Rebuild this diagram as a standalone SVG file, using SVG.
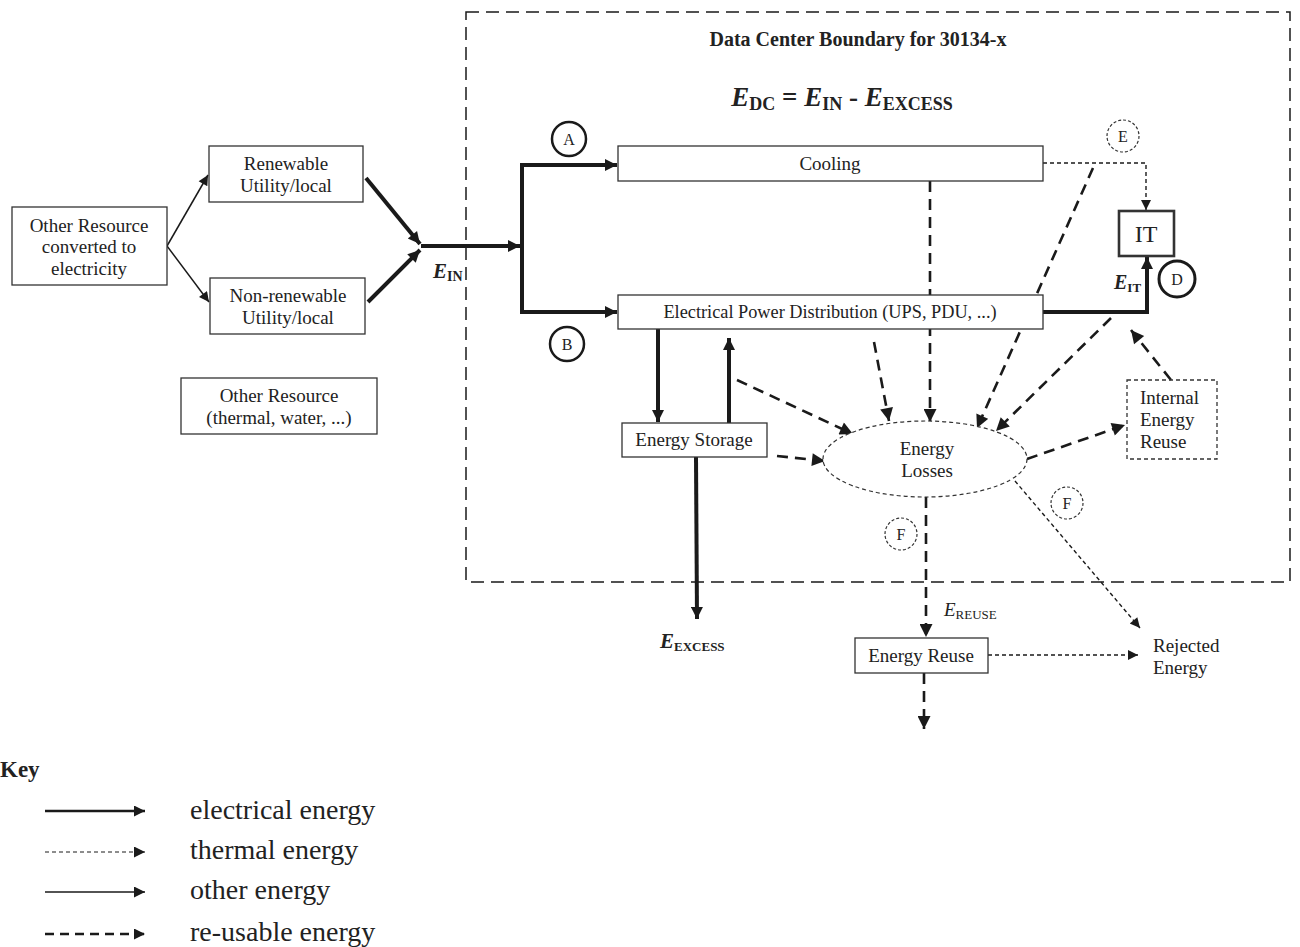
<svg xmlns="http://www.w3.org/2000/svg" width="1300" height="947" viewBox="0 0 1300 947">
<defs>
<style>
text{font-family:"Liberation Serif","DejaVu Serif",serif;fill:#222;}
.lbl{font-size:19px;text-anchor:middle;}
.box{fill:#fff;stroke:#333;stroke-width:1.3;}
.dbox{fill:none;stroke:#333;stroke-width:1.3;stroke-dasharray:4 3;}
.elec{fill:none;stroke:#1a1a1a;stroke-width:4;}
.other{fill:none;stroke:#1a1a1a;stroke-width:1.5;}
.thermal{fill:none;stroke:#1a1a1a;stroke-width:1.4;stroke-dasharray:4 3;}
.reuse{fill:none;stroke:#1a1a1a;stroke-width:2.6;stroke-dasharray:11 7;}
.bound{fill:none;stroke:#1a1a1a;stroke-width:1.5;stroke-dasharray:13 7;}
.circ{fill:#fff;stroke:#1a1a1a;stroke-width:3;}
.dcirc{fill:#fff;stroke:#333;stroke-width:1.2;stroke-dasharray:3 2;}
.key{font-size:28px;}
</style>
<marker id="ah" viewBox="0 0 10 10" refX="10" refY="5" markerWidth="14" markerHeight="12" markerUnits="userSpaceOnUse" orient="auto"><path d="M0,0 L10,5 L0,10 z" fill="#1a1a1a"/></marker>
<marker id="ahs" viewBox="0 0 10 10" refX="10" refY="5" markerWidth="12" markerHeight="10" markerUnits="userSpaceOnUse" orient="auto"><path d="M0,0 L10,5 L0,10 z" fill="#1a1a1a"/></marker>
<marker id="ahr" viewBox="0 0 10 10" refX="10" refY="5" markerWidth="15" markerHeight="13" markerUnits="userSpaceOnUse" orient="auto"><path d="M0,0 L10,5 L0,10 z" fill="#1a1a1a"/></marker>
<marker id="ahk" viewBox="0 0 10 10" refX="10" refY="5" markerWidth="13" markerHeight="11" markerUnits="userSpaceOnUse" orient="auto"><path d="M0,0 L10,5 L0,10 z" fill="#1a1a1a"/></marker>
</defs>
<rect width="1300" height="947" fill="#fff"/>

<g id="boundary">
<rect class="bound" x="466" y="12" width="824" height="570"/>
<text x="858" y="46" style="font-size:20px;font-weight:bold;text-anchor:middle">Data Center Boundary for 30134-x</text>
<text x="842" y="106" style="font-size:27px;font-weight:bold;text-anchor:middle"><tspan font-style="italic">E</tspan><tspan font-size="18" dy="4">DC</tspan><tspan dy="-4"> = </tspan><tspan font-style="italic">E</tspan><tspan font-size="18" dy="4">IN</tspan><tspan dy="-4"> - </tspan><tspan font-style="italic">E</tspan><tspan font-size="18" dy="4">EXCESS</tspan></text>
</g>

<g id="connectors">
<path class="other" d="M167,246 L208,175" marker-end="url(#ahs)"/>
<path class="other" d="M167,246 L209,302" marker-end="url(#ahs)"/>
<path class="elec" d="M366,178 L420,244" marker-end="url(#ah)"/>
<path class="elec" d="M368,302 L420,250" marker-end="url(#ah)"/>
<path class="elec" d="M421,246 L520,246" marker-end="url(#ah)"/>
<path class="elec" d="M522,165 V312"/>
<path class="elec" d="M520,165 H617" marker-end="url(#ah)"/>
<path class="elec" d="M520,312 H617" marker-end="url(#ah)"/>
<path class="elec" d="M1043,312 H1147 V257" marker-end="url(#ah)"/>
<path class="thermal" d="M1043,163 H1146 V210" marker-end="url(#ahs)"/>
<path class="elec" d="M658,329 V422" marker-end="url(#ah)"/>
<path class="elec" d="M729,423 V338" marker-end="url(#ah)"/>
<path class="elec" d="M696,457 L697,619" marker-end="url(#ah)"/>
<path class="reuse" d="M930,181 V422" marker-end="url(#ahr)"/>
<path class="reuse" d="M1093,168 L977,428" marker-end="url(#ahr)"/>
<path class="reuse" d="M874,342 L889,421" marker-end="url(#ahr)"/>
<path class="reuse" d="M737,380 L853,434" marker-end="url(#ahr)"/>
<path class="reuse" d="M1111,318 L996,431" marker-end="url(#ahr)"/>
<path class="reuse" d="M777,456 L825,461" marker-end="url(#ahr)"/>
<path class="reuse" d="M1027,459 L1125,425" marker-end="url(#ahr)"/>
<path class="reuse" d="M1171,380 L1131,330" marker-end="url(#ahr)"/>
<path class="reuse" d="M926,497 V637" marker-end="url(#ahr)"/>
<path class="reuse" d="M924,673 V729" marker-end="url(#ahr)"/>
<path class="thermal" d="M988,655 H1138" marker-end="url(#ahs)"/>
<path class="thermal" d="M1015,481 L1140,628" marker-end="url(#ahs)"/>
</g>

<g id="other-converted">
<rect class="box" x="12" y="207" width="155" height="78"/>
<text class="lbl" x="89" y="232">Other Resource</text>
<text class="lbl" x="89" y="253">converted to</text>
<text class="lbl" x="89" y="275">electricity</text>
</g>
<g id="renewable">
<rect class="box" x="209" y="146" width="154" height="56"/>
<text class="lbl" x="286" y="170">Renewable</text>
<text class="lbl" x="286" y="192">Utility/local</text>
</g>
<g id="nonrenewable">
<rect class="box" x="210" y="278" width="155" height="56"/>
<text class="lbl" x="288" y="302">Non-renewable</text>
<text class="lbl" x="288" y="324">Utility/local</text>
</g>
<g id="other-thermal">
<rect class="box" x="181" y="378" width="196" height="56"/>
<text class="lbl" x="279" y="402">Other Resource</text>
<text class="lbl" x="279" y="424">(thermal, water, ...)</text>
</g>
<g id="ein-label">
<text x="433" y="278" style="font-size:21px;font-weight:bold;font-style:italic">E<tspan font-style="normal" font-size="14" dy="3">IN</tspan></text>
</g>
<g id="label-A"><circle class="circ" cx="569" cy="139" r="17" style="stroke-width:2.5"/><text class="lbl" x="569" y="145" style="font-size:16px">A</text></g>
<g id="label-B"><circle class="circ" cx="567" cy="344" r="17" style="stroke-width:2.5"/><text class="lbl" x="567" y="350" style="font-size:16px">B</text></g>
<g id="cooling">
<rect class="box" x="618" y="146" width="425" height="35"/>
<text class="lbl" x="830" y="170">Cooling</text>
</g>
<g id="epd">
<rect class="box" x="618" y="295" width="425" height="34"/>
<text class="lbl" x="830" y="318" style="font-size:18.3px">Electrical Power Distribution (UPS, PDU, ...)</text>
</g>
<g id="it">
<rect class="box" x="1119" y="211" width="55" height="45" style="stroke-width:2.6"/>
<text class="lbl" x="1146" y="242" style="font-size:24px">IT</text>
</g>
<g id="eit-label">
<text x="1114" y="289" style="font-size:20px;font-weight:bold;font-style:italic">E<tspan font-style="normal" font-size="13" dy="3">IT</tspan></text>
</g>
<g id="label-D"><circle class="circ" cx="1177" cy="279" r="18"/><text class="lbl" x="1177" y="285" style="font-size:16px">D</text></g>
<g id="label-E"><circle class="dcirc" cx="1123" cy="136" r="16"/><text class="lbl" x="1123" y="142" style="font-size:16px">E</text></g>
<g id="energy-storage">
<rect class="box" x="622" y="423" width="145" height="34"/>
<text class="lbl" x="694" y="446">Energy Storage</text>
</g>
<g id="energy-losses">
<ellipse cx="925" cy="459" rx="102" ry="38" fill="#fff" stroke="#333" stroke-width="1.2" stroke-dasharray="4 3"/>
<text class="lbl" x="927" y="455">Energy</text>
<text class="lbl" x="927" y="477">Losses</text>
</g>
<g id="internal-reuse">
<rect class="dbox" x="1127" y="380" width="90" height="79"/>
<text x="1140" y="404" style="font-size:19px">Internal</text>
<text x="1140" y="426" style="font-size:19px">Energy</text>
<text x="1140" y="448" style="font-size:19px">Reuse</text>
</g>
<g id="label-F1"><circle class="dcirc" cx="901" cy="534" r="16"/><text class="lbl" x="901" y="540" style="font-size:16px">F</text></g>
<g id="label-F2"><circle class="dcirc" cx="1067" cy="503" r="16"/><text class="lbl" x="1067" y="509" style="font-size:16px">F</text></g>
<g id="eexcess-label">
<text x="660" y="648" style="font-size:21px;font-weight:bold;font-style:italic">E<tspan font-style="normal" font-size="13" dy="3">EXCESS</tspan></text>
</g>
<g id="ereuse-label">
<text x="944" y="616" style="font-size:19px;font-style:italic">E<tspan font-style="normal" font-size="13" dy="3">REUSE</tspan></text>
</g>
<g id="energy-reuse">
<rect class="box" x="855" y="638" width="133" height="35"/>
<text class="lbl" x="921" y="662">Energy Reuse</text>
</g>
<g id="rejected">
<text x="1153" y="652" style="font-size:19px">Rejected</text>
<text x="1153" y="674" style="font-size:19px">Energy</text>
</g>

<g id="key">
<text x="0" y="777" style="font-size:23px;font-weight:bold">Key</text>
<path class="elec" d="M45,811 H145" style="stroke-width:2.6" marker-end="url(#ahk)"/>
<path class="thermal" d="M45,852 H145" style="stroke-width:1" marker-end="url(#ahk)"/>
<path class="other" d="M45,892 H145" marker-end="url(#ahk)"/>
<path class="reuse" d="M45,934 H145" style="stroke-dasharray:9 6" marker-end="url(#ahk)"/>
<text class="key" x="190" y="819">electrical energy</text>
<text class="key" x="190" y="859">thermal energy</text>
<text class="key" x="190" y="899">other energy</text>
<text class="key" x="190" y="941">re-usable energy</text>
</g>
</svg>
